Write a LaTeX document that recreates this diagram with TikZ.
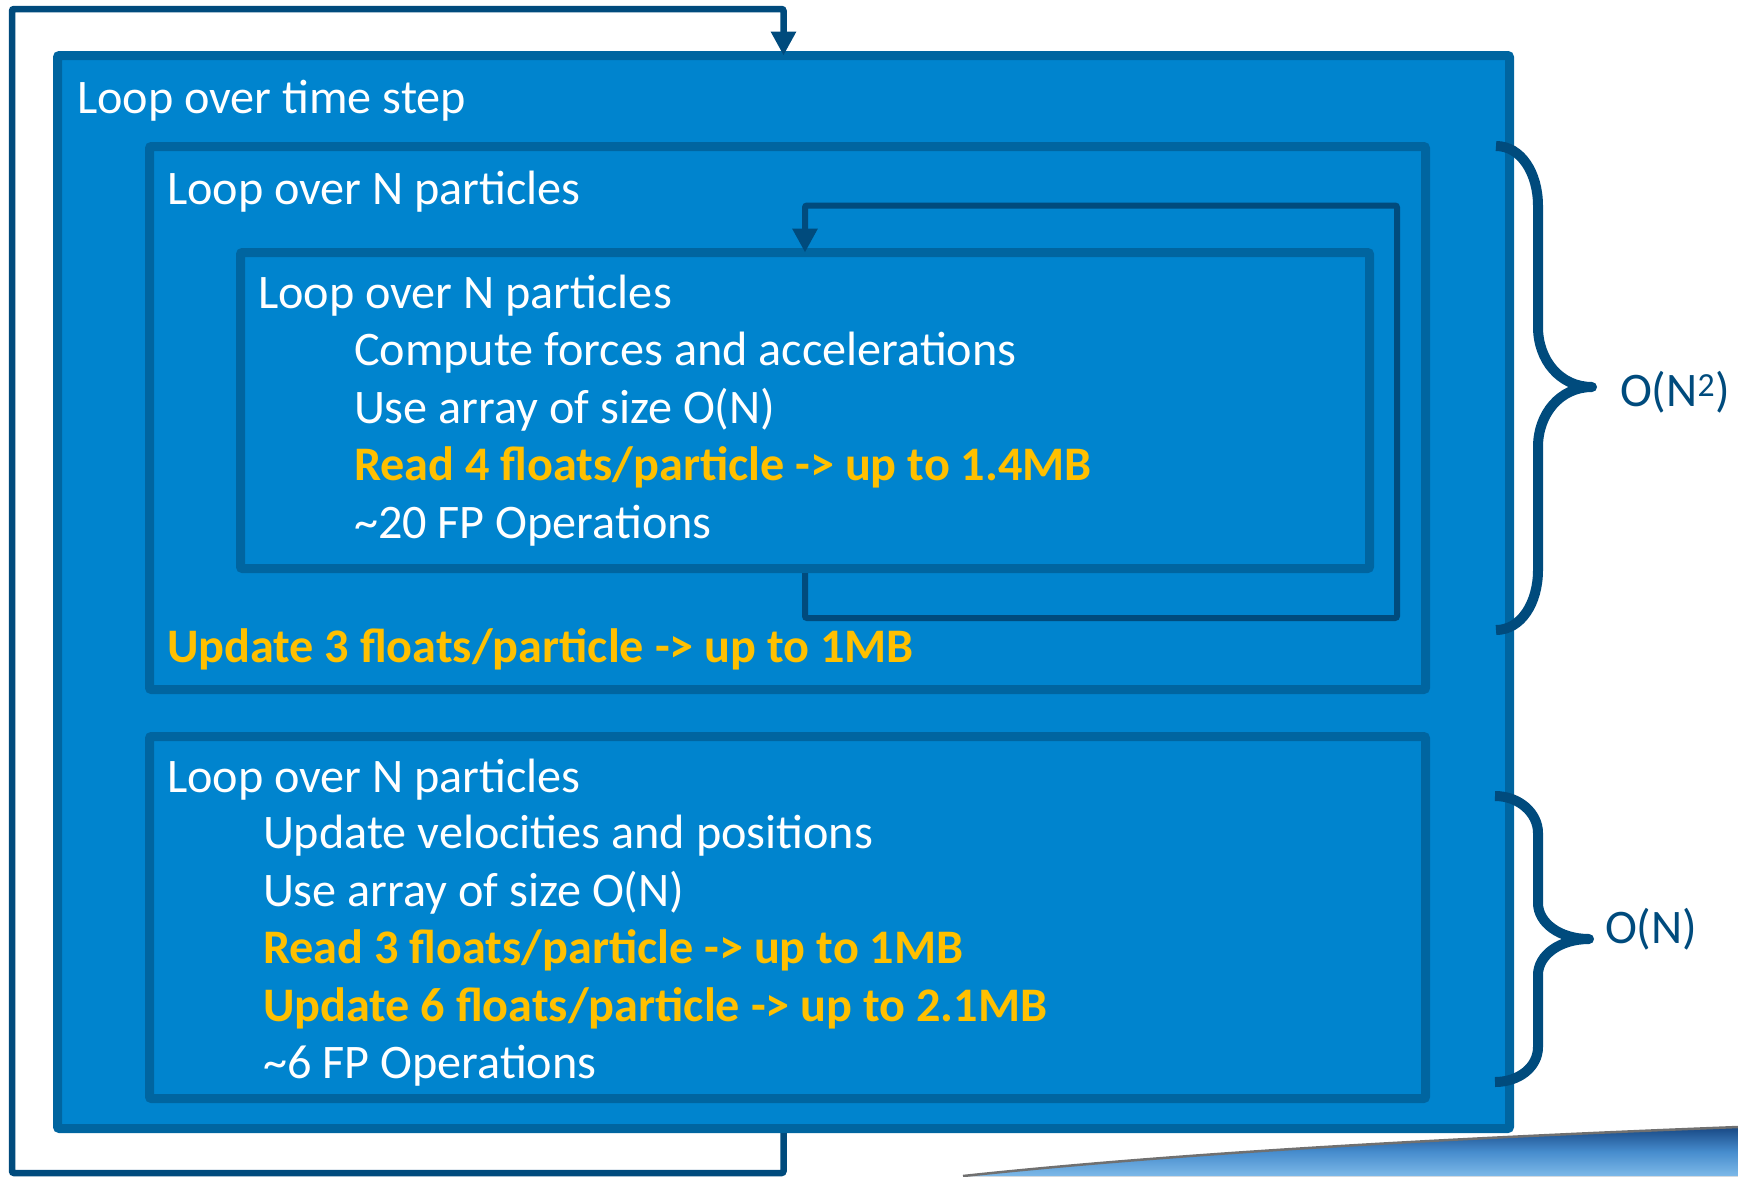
\documentclass[tikz,border=0pt]{standalone}
\usepackage{fontspec}
\setmainfont{Carlito}
\usetikzlibrary{arrows.meta}

\definecolor{boxfill}{RGB}{0,132,206}
\definecolor{boxedge}{RGB}{0,101,160}
\definecolor{navy}{RGB}{0,75,125}
\definecolor{gold}{RGB}{255,192,0}
\definecolor{swdark}{RGB}{24,72,132}
\definecolor{swmid}{RGB}{70,140,205}
\definecolor{swlight}{RGB}{125,185,232}
\definecolor{swrim}{RGB}{112,112,112}

\begin{document}
\begin{tikzpicture}[x=1pt,y=-1pt,
  box/.style={draw=boxedge, fill=boxfill, line width=9pt, rounded corners=2pt,
    anchor=north west, inner sep=0pt, outer sep=0pt},
  txt/.style={anchor=base west, inner sep=0pt, outer sep=0pt, text=white,
    font=\fontsize{48.2}{57}\selectfont},
  hot/.style={txt, text=gold, font=\fontsize{48.2}{57}\selectfont\bfseries},
  note/.style={txt, text=navy},
  looparrow/.style={draw=navy, line width=6.5pt, rounded corners=2pt,
    -{Triangle[width=24pt,length=24pt]}},
  brace/.style={draw=navy, line width=10pt, line cap=butt, line join=round},
]
\useasboundingbox (0,0) rectangle (1738,1176);

% decorative swoosh in the lower right corner
\fill[top color=swdark, bottom color=swlight, middle color=swmid]
  (963,1176) .. controls (1150,1156) and (1400,1140) .. (1738,1127)
  -- (1738,1176) -- cycle;
\draw[swrim, line width=2.5pt]
  (963,1176) .. controls (1150,1156) and (1400,1140) .. (1738,1127);

% nested loop boxes
\node[box, minimum width=1452pt, minimum height=1073pt] (tsbox) at (57.5,55.5) {};
\node[box, minimum width=1276pt, minimum height=543pt] (upbox) at (149.5,146.5) {};
\node[box, minimum width=1129pt, minimum height=316pt] (inbox) at (240.5,252.5) {};
\node[box, minimum width=1276pt, minimum height=362pt] (lowbox) at (149.5,736.5) {};

% loop-back connectors
\coordinate (ol1) at (12,1173);
\coordinate (ol2) at (12,9);
\draw[looparrow] ([yshift=-4.5pt]tsbox.south) |- (ol1) -- (ol2) -| (tsbox.north);

\coordinate (il1) at (1397,618);
\coordinate (il2) at (1397,205.5);
\draw[looparrow, line width=6pt] ([yshift=-4.5pt]inbox.south) |- (il1) -- (il2) -| (inbox.north);

% texts
\node[txt] (t1) at (77,113) {Loop over time step};
\node[txt] (t2) at (167,204) {Loop over N particles};
\node[txt] (t3) at (258,308) {Loop over N particles};
\node[txt] (t4) at (354,365) {Compute forces and accelerations};
\node[txt] (t5) at (354,423) {Use array of size O(N)};
\node[hot] (t6) at (354,480) {Read 4 floats/particle -> up to 1.4MB};
\node[txt] (t7) at (354,538) {\textasciitilde 20 FP Operations};
\node[hot] (t8) at (167,662) {Update 3 floats/particle -> up to 1MB};
\node[txt] (t9) at (167,792) {Loop over N particles};
\node[txt] (t10) at (263,848) {Update velocities and positions};
\node[txt] (t11) at (263,906) {Use array of size O(N)};
\node[hot] (t12) at (263,963) {Read 3 floats/particle -> up to 1MB};
\node[hot] (t13) at (263,1021) {Update 6 floats/particle -> up to 2.1MB};
\node[txt] (t14) at (263,1078) {\textasciitilde 6 FP Operations};

% complexity braces
\draw[brace] (1496,146) .. controls (1521,146) and (1538,173) .. (1538,206)
  -- (1538,327) .. controls (1538,360) and (1560,387) .. (1592,387)
  .. controls (1560,387) and (1538,414) .. (1538,447)
  -- (1538,570) .. controls (1538,603) and (1521,630) .. (1496,630);
\draw[brace] (1495,796) .. controls (1519,796) and (1538,813) .. (1538,833)
  -- (1538,903) .. controls (1538,923) and (1560,939) .. (1589,939)
  .. controls (1560,939) and (1538,955) .. (1538,975)
  -- (1538,1047) .. controls (1538,1067) and (1519,1082) .. (1495,1082);

\node[note] (on2) at (1620,406) {O(N\textsuperscript{2})};
\node[note] (on1) at (1605,943) {O(N)};
\end{tikzpicture}
\end{document}
